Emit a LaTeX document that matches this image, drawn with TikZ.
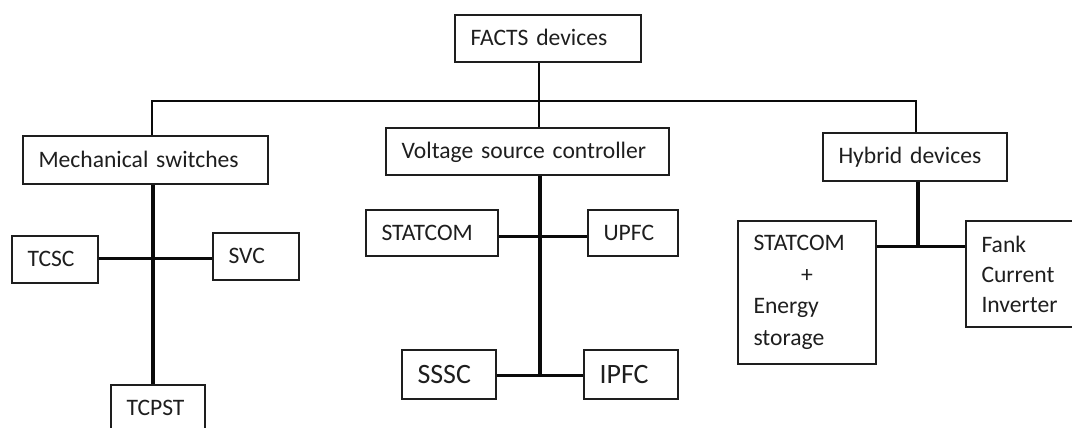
\documentclass[tikz,border=0pt]{standalone}
\usepackage{fontspec}
\setmainfont{Carlito}
\usepackage{xcolor}
\definecolor{FactsInk}{HTML}{1E1E1E}
\definecolor{FactsLine}{HTML}{0A0A0A}
\tikzset{
  boxbase/.style={draw=FactsInk,line width=1.4pt,text=FactsInk,align=left,inner xsep=15.5pt,inner ysep=0pt,text width=#1,font=\fontsize{23.6}{31}\selectfont},
  devbox/.style={boxbase=#1,minimum height=47pt,text height=14pt,text depth=0pt},
  bigbox/.style={devbox=#1,text height=17pt,font=\fontsize{28}{34}\selectfont},
  busline/.style={line width=2.8pt,draw=FactsLine},
  trunk/.style={line width=4pt,draw=FactsLine},
  branch/.style={line width=3pt,draw=FactsLine}
}

\begin{document}
\begin{tikzpicture}[x=1pt,y=-1pt]
\useasboundingbox (0,0) rectangle (1072,428);
% device boxes
\node[devbox=155pt] (facts) at (548,38.5) {FACTS devices};
\node[devbox=214pt,minimum height=48pt] (mech) at (145.5,160) {Mechanical switches};
\node[devbox=252pt] (volt) at (527.5,151.5) {Voltage source controller};
\node[devbox=153pt,minimum height=48pt] (hybrid) at (915,157) {Hybrid devices};
\node[devbox=55pt] (tcsc) at (55,259.5) {TCSC};
\node[devbox=55pt] (svc) at (256,256.5) {SVC};
\node[devbox=63pt] (tcpst) at (158,408.5) {TCPST};
\node[devbox=101pt,minimum height=46pt] (statcom) at (432,233) {STATCOM};
\node[devbox=59pt,minimum height=46pt] (upfc) at (633,233) {UPFC};
\node[bigbox=63pt,minimum height=49pt] (sssc) at (449,374.5) {SSSC};
\node[bigbox=63pt,minimum height=49pt] (ipfc) at (631,374.5) {IPFC};
\node[boxbase=107pt,minimum height=143pt,font=\fontsize{23.6}{31.5}\selectfont] (storage) at (807,292.5) {STATCOM\\\makebox[\hsize]{+}\\Energy\\storage};
\node[boxbase=93pt,minimum height=106pt,font=\fontsize{23.6}{30}\selectfont] (fank) at (1028,274) {Fank\\Current\\Inverter};
% main bus
\coordinate (busL) at (152,101);
\coordinate (busM) at (539,101);
\coordinate (busR) at (916,101);
\draw[busline] (busL |- mech.north) -- (busL) -- (busR) -- (busR |- hybrid.north);
\draw[branch,line width=2.5pt] (busM |- facts.south) -- (busM |- volt.north);
% mechanical switches
\coordinate (mechJ) at (153,258);
\draw[trunk] (mechJ |- mech.south) -- (mechJ |- tcpst.north);
\draw[branch] (tcsc.east |- mechJ) -- (svc.west |- mechJ);
% voltage source controller
\coordinate (voltJ) at (540,236);
\coordinate (voltK) at (540,375);
\coordinate (voltE) at (540,376.5);
\draw[trunk] (voltJ |- volt.south) -- (voltE);
\draw[branch] (statcom.east |- voltJ) -- (upfc.west |- voltJ);
\draw[branch] (sssc.east |- voltK) -- (ipfc.west |- voltK);
% hybrid devices
\coordinate (hybJ) at (918,246);
\draw[trunk] (hybJ |- hybrid.south) -- (hybJ);
\draw[branch] (storage.east |- hybJ) -- (fank.west |- hybJ);
\end{tikzpicture}
\end{document}
